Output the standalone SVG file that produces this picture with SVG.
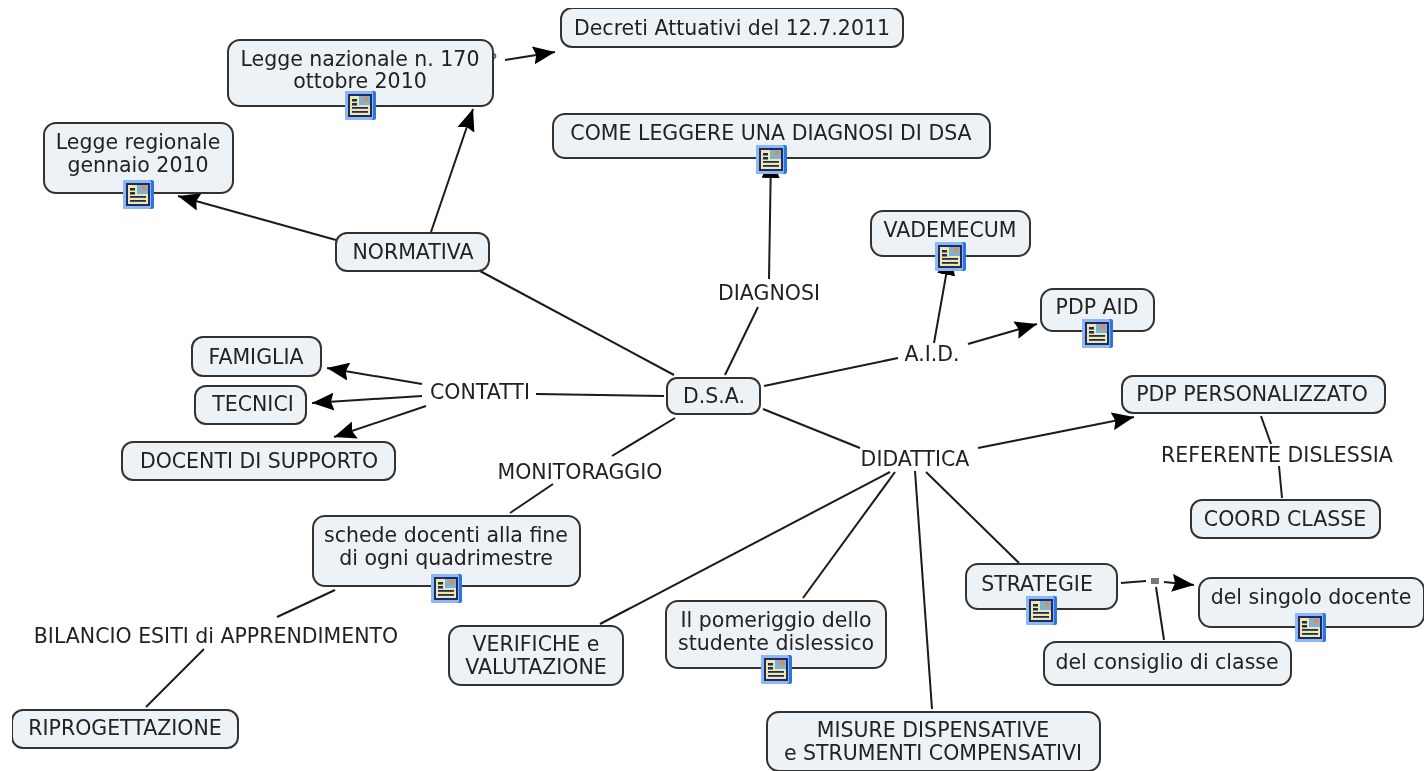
<svg xmlns="http://www.w3.org/2000/svg" width="1427" height="771" viewBox="0 0 1427 771">
<style>
.n{fill:#ecf2f5;stroke:#333;stroke-width:2}
text{font-family:"DejaVu Sans",Verdana,sans-serif;font-size:20.5px;fill:#222;text-anchor:middle}
.c{stroke:#1a1a1a;stroke-width:2;fill:none}
.a{fill:#000;stroke:none}
</style>
<defs>
<filter id="soft" x="0" y="0" width="100%" height="100%"><feGaussianBlur stdDeviation="0.5"/></filter>
<marker id="arrow" markerUnits="userSpaceOnUse" markerWidth="24" markerHeight="18" refX="22" refY="9" orient="auto"><path class="a" d="M0 0L22 9L0 18L3 9Z"/></marker>
<marker id="arrow-hidden" markerUnits="userSpaceOnUse" markerWidth="24" markerHeight="18" refX="22" refY="9" orient="auto"><path class="a" d="M0 0L22 9L0 18Z"/></marker>
<g id="icon">
<rect x="-15" y="-14" width="31" height="29" rx="2" fill="#2f74e0"/>
<rect x="-15" y="-14" width="28" height="29" rx="2" fill="#8db8f5"/>
<rect x="-12" y="-11" width="24" height="23" fill="#1d2a66"/>
<rect x="-10" y="-9" width="20" height="19" fill="#f1e9a0"/>
<rect x="-8" y="-6" width="5" height="2.5" fill="#1d2a66"/>
<rect x="-8" y="-2" width="5" height="2.5" fill="#1d2a66"/>
<rect x="-1" y="-9" width="11" height="9" fill="#7fb0d8"/>
<circle cx="6" cy="-6" r="2.2" fill="#ee8a2a"/>
<rect x="-8" y="2" width="16" height="1.8" fill="#1d2a66"/>
<rect x="-8" y="6" width="16" height="1.8" fill="#1d2a66"/>
</g>
</defs>
<rect width="1427" height="771" fill="#fff"/>
<g filter="url(#soft)">
<g id="connectors">
<path class="c" d="M505 60L555 52" marker-end="url(#arrow)"/>
<path class="c" d="M431 232L473 109" marker-end="url(#arrow)"/>
<path class="c" d="M336 240L178 196" marker-end="url(#arrow)"/>
<path class="c" d="M480 271L674 375"/>
<path class="c" d="M725 375L758 307"/>
<path class="c" d="M769 279L771 156" marker-end="url(#arrow-hidden)"/>
<path class="c" d="M764 386L898 358"/>
<path class="c" d="M934 343L950 253" marker-end="url(#arrow-hidden)"/>
<path class="c" d="M968 344L1037 324" marker-end="url(#arrow)"/>
<path class="c" d="M664 396L536 394"/>
<path class="c" d="M422 384L327 368" marker-end="url(#arrow)"/>
<path class="c" d="M422 396L312 403" marker-end="url(#arrow)"/>
<path class="c" d="M426 406L334 437" marker-end="url(#arrow)"/>
<path class="c" d="M675 418L612 456"/>
<path class="c" d="M553 484L510 513"/>
<path class="c" d="M335 590L277 617"/>
<path class="c" d="M204 649L146 707"/>
<path class="c" d="M763 409L860 448"/>
<path class="c" d="M978 448L1134 417" marker-end="url(#arrow)"/>
<path class="c" d="M1261 416L1271 444"/>
<path class="c" d="M1279 466L1282 498"/>
<path class="c" d="M890 472L600 624"/>
<path class="c" d="M895 472L803 598"/>
<path class="c" d="M915 471L932 709"/>
<path class="c" d="M926 472L1019 563"/>
<path class="c" d="M1121 583L1146 581"/>
<path class="c" d="M1164 582L1194 585" marker-end="url(#arrow)"/>
<path class="c" d="M1156 587L1164 640"/>
<rect x="1151" y="578" width="8" height="6" fill="#777"/>
<text x="493" y="66" style="font-size:17px;fill:#555">?</text>
</g>
<g id="n-decreti"><rect class="n" x="561" y="8" width="342" height="39" rx="11"/><text x="732" y="35">Decreti Attuativi del 12.7.2011</text></g>
<g id="n-legge-nazionale"><rect class="n" x="228" y="40" width="265" height="66" rx="12"/><text x="360" y="66">Legge nazionale n. 170</text><text x="360" y="88">ottobre 2010</text><use href="#icon" x="360" y="105"/></g>
<g id="n-come-leggere"><rect class="n" x="553" y="114" width="437" height="44" rx="12"/><text x="771" y="140">COME LEGGERE UNA DIAGNOSI DI DSA</text><use href="#icon" x="771" y="159"/></g>
<g id="n-legge-regionale"><rect class="n" x="44" y="123" width="189" height="70" rx="12"/><text x="138" y="149">Legge regionale</text><text x="138" y="172">gennaio 2010</text><use href="#icon" x="138" y="194"/></g>
<g id="n-vademecum"><rect class="n" x="871" y="211" width="159" height="45" rx="12"/><text x="950" y="237">VADEMECUM</text><use href="#icon" x="950" y="256"/></g>
<g id="n-pdp-aid"><rect class="n" x="1041" y="289" width="113" height="42" rx="12"/><text x="1097" y="314">PDP AID</text><use href="#icon" x="1097" y="333"/></g>
<g id="n-normativa"><rect class="n" x="336" y="233" width="153" height="38" rx="11"/><text x="413" y="259">NORMATIVA</text></g>
<g id="n-famiglia"><rect class="n" x="192" y="337" width="129" height="39" rx="11"/><text x="256" y="364">FAMIGLIA</text></g>
<g id="n-tecnici"><rect class="n" x="195" y="386" width="111" height="38" rx="11"/><text x="253" y="411">TECNICI</text></g>
<g id="n-docenti"><rect class="n" x="122" y="442" width="273" height="38" rx="11"/><text x="259" y="468">DOCENTI DI SUPPORTO</text></g>
<g id="n-dsa"><rect class="n" x="667" y="378" width="93" height="36" rx="10"/><text x="714" y="403">D.S.A.</text></g>
<g id="n-pdp-pers"><rect class="n" x="1122" y="376" width="263" height="37" rx="11"/><text x="1252" y="401">PDP PERSONALIZZATO</text></g>
<g id="n-coord"><rect class="n" x="1191" y="500" width="189" height="38" rx="11"/><text x="1285" y="526">COORD CLASSE</text></g>
<g id="n-schede"><rect class="n" x="313" y="516" width="267" height="70" rx="12"/><text x="446" y="542">schede docenti alla fine</text><text x="446" y="565">di ogni quadrimestre</text><use href="#icon" x="446" y="588"/></g>
<g id="n-strategie"><rect class="n" x="966" y="564" width="151" height="45" rx="12"/><text x="1037" y="591">STRATEGIE</text><use href="#icon" x="1041" y="610"/></g>
<g id="n-singolo"><rect class="n" x="1199" y="578" width="225" height="49" rx="12"/><text x="1311" y="604">del singolo docente</text><use href="#icon" x="1310" y="627"/></g>
<g id="n-consiglio"><rect class="n" x="1044" y="642" width="247" height="43" rx="12"/><text x="1167" y="669">del consiglio di classe</text></g>
<g id="n-verifiche"><rect class="n" x="449" y="626" width="174" height="59" rx="12"/><text x="536" y="651">VERIFICHE e</text><text x="536" y="674">VALUTAZIONE</text></g>
<g id="n-pomeriggio"><rect class="n" x="666" y="601" width="220" height="67" rx="12"/><text x="776" y="627">Il pomeriggio dello</text><text x="776" y="650">studente dislessico</text><use href="#icon" x="776" y="669"/></g>
<g id="n-misure"><rect class="n" x="767" y="712" width="333" height="59" rx="12"/><text x="933" y="737">MISURE DISPENSATIVE</text><text x="933" y="760">e STRUMENTI COMPENSATIVI</text></g>
<g id="n-riprog"><rect class="n" x="12" y="710" width="226" height="38" rx="11"/><text x="125" y="735">RIPROGETTAZIONE</text></g>
<g id="labels">
<text x="769" y="300">DIAGNOSI</text>
<text x="932" y="361">A.I.D.</text>
<text x="480" y="399">CONTATTI</text>
<text x="580" y="479">MONITORAGGIO</text>
<text x="915" y="466">DIDATTICA</text>
<text x="1277" y="462">REFERENTE DISLESSIA</text>
<text x="216" y="643">BILANCIO ESITI di APPRENDIMENTO</text>
</g>
</g>
</svg>
